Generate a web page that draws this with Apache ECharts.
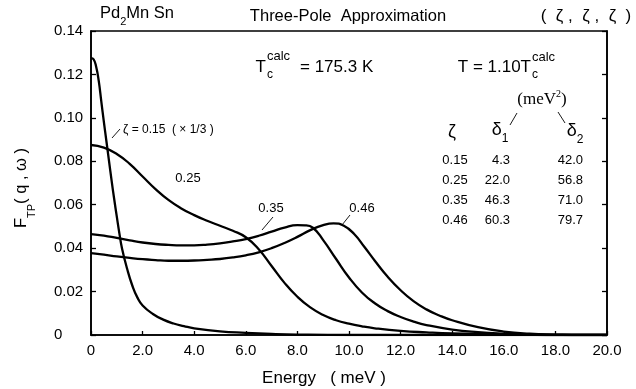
<!DOCTYPE html>
<html>
<head>
<meta charset="utf-8">
<script src="https://cdn.jsdelivr.net/npm/echarts@6/dist/echarts.min.js"></script>
<style>html,body{margin:0;padding:0;background:#fff}#c{width:636px;height:389px}</style>
</head>
<body>
<div id="c"></div>
<script>
// ---- data ----
var xTickLabels = ['0','2.0','4.0','6.0','8.0','10.0','12.0','14.0','16.0','18.0','20.0'];
var yTickLabels = ['0','0.02','0.04','0.06','0.08','0.10','0.12','0.14'];

var e015 = [0,0.1,0.2,0.3,0.4,0.5,0.6,0.7,0.8,0.9,1.0,1.1,1.2,1.4,1.6,1.8,2.0,2.4,2.8,3.2,3.6,4.0,5.0,6.0,7.0,8.0,10,12,14,16,18,20];
var f015 = [0.1275,0.127,0.1235,0.117,0.1075,0.098,0.089,0.080,0.071,0.0625,0.0545,0.0468,0.0400,0.0305,0.0228,0.0172,0.0136,0.0097,0.0071,0.0053,0.0041,0.0031,0.0017,0.001,0.0005,0.0002,0,0,0,0,0,0];

var e025 = [0,0.5,1.0,1.5,2.0,2.5,3.0,3.5,4.0,4.5,5.0,5.5,6.0,6.5,7.0,7.5,8.0,8.5,9.0,9.5,10,10.5,11,12,13,14,16,18,20];
var f025 = [0.0875,0.0863,0.0834,0.0788,0.0730,0.0672,0.0622,0.0583,0.0552,0.0526,0.0503,0.0480,0.0450,0.0395,0.0318,0.0240,0.0176,0.0127,0.0092,0.0068,0.0052,0.0040,0.0031,0.0019,0.0012,0.0007,0.0002,0,0];

var e035 = [0,0.5,1.0,1.5,2.0,2.5,3.0,3.5,4.0,4.5,5.0,5.5,6.0,6.5,7.0,7.5,8.0,8.3,8.6,9.0,9.5,10,10.5,11,11.5,12,12.5,13,14,15,16,17,18,20];
var f035 = [0.0465,0.0458,0.0447,0.0436,0.0426,0.0419,0.0415,0.0413,0.0413,0.0416,0.0422,0.0431,0.0442,0.0457,0.0476,0.0495,0.0506,0.0505,0.0494,0.0437,0.0350,0.0265,0.0196,0.0146,0.0110,0.0083,0.0062,0.0046,0.0025,0.0013,0.0006,0.0002,0,0];

var e046 = [0,0.5,1.0,1.5,2.0,2.5,3.0,3.5,4.0,4.5,5.0,5.5,6.0,6.5,7.0,7.5,8.0,8.5,9.0,9.4,9.8,10.2,10.6,11.0,11.5,12.0,12.5,13,13.5,14,15,16,17,18,19,20];
var f046 = [0.0377,0.0370,0.0362,0.0355,0.0349,0.0345,0.0342,0.0342,0.0343,0.0346,0.0350,0.0357,0.0367,0.0381,0.0400,0.0424,0.0452,0.0483,0.0506,0.0514,0.0503,0.0465,0.0405,0.0342,0.0268,0.0206,0.0156,0.0118,0.0090,0.0068,0.0036,0.0016,0.0006,0.0002,0,0];

var zetaVals = ['0.15','0.25','0.35','0.46'];
var delta1Vals = ['4.3','22.0','46.3','60.3'];
var delta2Vals = ['42.0','56.8','71.0','79.7'];

// ---- chart ----
function zip(a,b){return a.map(function(v,i){return [v,b[i]];});}
var FF = '"Liberation Sans", Arial, sans-serif';
var SERIF = '"Liberation Serif", "DejaVu Serif", serif';
var chart = echarts.init(document.getElementById('c'), null, {renderer:'canvas'});

function lineSeries(e,f){
  return {type:'line', data:zip(e,f), showSymbol:false, symbol:'none', smooth:0.5,
    lineStyle:{color:'#000', width:2.3}, silent:true, clip:true, z:3};
}
function txt(x,y,text,size,opts){
  opts = opts||{};
  return {type:'text', x:x, y:y, rotation:opts.rot||0, z:10,
    style:{text:text, fontFamily:opts.family||FF, fontSize:size, fill:'#000',
      align:opts.align||'left', verticalAlign:'middle', rich:opts.rich}};
}
function ln(x1,y1,x2,y2){
  return {type:'line', z:10, shape:{x1:x1,y1:y1,x2:x2,y2:y2}, style:{stroke:'#000', lineWidth:0.9}};
}

var graphics = [
  txt(100,16,'{n|Pd}{s|2}{n|Mn Sn}',16,{rich:{n:{fontSize:16.5,fontFamily:FF,lineHeight:22,verticalAlign:'top'},s:{fontSize:11,fontFamily:FF,lineHeight:22,verticalAlign:'bottom'}}}),
  txt(348,16,'Three-Pole  Approximation',16.5,{align:'center'}),
  txt(586,16,'(  ζ ,  ζ ,  ζ  )',17,{align:'center'}),
  // Tc calc = 175.3 K
  txt(266,67,'T',17,{align:'right'}),
  txt(267,75,'c',12),
  txt(267,56,'calc',13),
  txt(300,67,'= 175.3 K',17),
  // T = 1.10 Tc calc
  txt(531,67,'T = 1.10T',17,{align:'right'}),
  txt(532,75,'c',12),
  txt(532,57,'calc',13),
  txt(542,100,'{n|(meV}{t|2}{n|)}',17,{align:'center',rich:{n:{fontSize:17,fontFamily:SERIF,lineHeight:22,verticalAlign:'middle'},t:{fontSize:10,fontFamily:SERIF,lineHeight:22,verticalAlign:'top'}}}),
  ln(517,113,510,125), ln(558,112,565,123),
  txt(452,132,'ζ',18,{align:'center'}),
  txt(500,133,'{n|δ}{s|1}',18,{align:'center',rich:{n:{fontSize:18,fontFamily:FF,lineHeight:24,verticalAlign:'top'},s:{fontSize:12,fontFamily:FF,lineHeight:24,verticalAlign:'bottom'}}}),
  txt(575,134,'{n|δ}{s|2}',18,{align:'center',rich:{n:{fontSize:18,fontFamily:FF,lineHeight:24,verticalAlign:'top'},s:{fontSize:12,fontFamily:FF,lineHeight:24,verticalAlign:'bottom'}}}),
  txt(123,130,'ζ = 0.15  ( × 1/3 )',12),
  ln(112,138,120,129),
  txt(188,178,'0.25',13,{align:'center'}),
  txt(271,208,'0.35',13,{align:'center'}),
  ln(262,230,273,217),
  txt(362,208,'0.46',13,{align:'center'}),
  ln(342,225,350,215),
  txt(25,188,'{n|F}{s|TP}{n|( q , ω )}',16,{align:'center',rot:Math.PI/2,rich:{n:{fontSize:16.5,fontFamily:FF,lineHeight:24,verticalAlign:'top'},s:{fontSize:11,fontFamily:FF,lineHeight:24,verticalAlign:'bottom'}}}),
  txt(324,378,'Energy   ( meV )',17,{align:'center'})
];
for (var i=0;i<zetaVals.length;i++){
  var yy = 160 + i*20;
  graphics.push(txt(455,yy,zetaVals[i],13,{align:'center'}));
  graphics.push(txt(510,yy,delta1Vals[i],13,{align:'right'}));
  graphics.push(txt(583,yy,delta2Vals[i],13,{align:'right'}));
}

chart.setOption({
  animation:false,
  backgroundColor:'#fff',
  grid:{left:91,right:29,top:31,bottom:54,show:true,borderColor:'#000',borderWidth:1.6,backgroundColor:'transparent'},
  xAxis:{type:'value',min:0,max:20,interval:2,
    axisLine:{show:true,lineStyle:{color:'#000',width:1.6}},
    axisTick:{show:true,inside:true,length:4,lineStyle:{color:'#000',width:1.3}},
    splitLine:{show:false},
    axisLabel:{margin:8,color:'#000',fontSize:15,fontFamily:FF,
      formatter:function(v){return xTickLabels[Math.round(v/2)];}}},
  yAxis:[{type:'value',min:0,max:0.14,interval:0.02,position:'left',
    axisLine:{show:true,lineStyle:{color:'#000',width:1.6}},
    axisTick:{show:true,inside:true,length:5,lineStyle:{color:'#000',width:1.3}},
    splitLine:{show:false},
    axisLabel:{margin:37,align:'left',color:'#000',fontSize:15,fontFamily:FF,
      formatter:function(v){return yTickLabels[Math.round(v/0.02)];}}},
   {type:'value',min:0,max:0.14,interval:0.02,position:'right',
    axisLine:{show:true,lineStyle:{color:'#000',width:1.6}},
    axisTick:{show:true,inside:true,length:5,lineStyle:{color:'#000',width:1.3}},
    splitLine:{show:false},axisLabel:{show:false}}],
  series:[lineSeries(e015,f015),lineSeries(e025,f025),lineSeries(e035,f035),lineSeries(e046,f046)],
  graphic:graphics
});
</script>
</body>
</html>
